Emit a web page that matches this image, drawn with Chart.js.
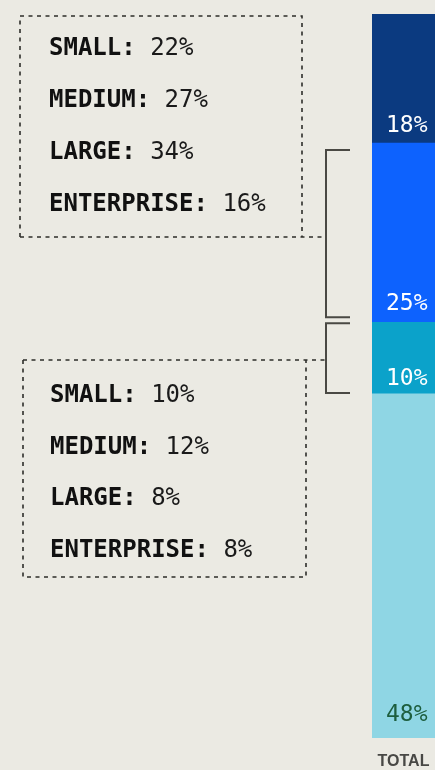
<!DOCTYPE html>
<html>
<head>
<meta charset="utf-8">
<script src="https://cdn.jsdelivr.net/npm/chart.js@4.4.0/dist/chart.umd.min.js"></script>
<style>
  html, body { margin: 0; padding: 0; background: #ebeae3; }
  canvas { display: block; }
</style>
</head>
<body>
<canvas id="chart" width="435" height="770"></canvas>
<script>
// Single stacked bar, segments listed bottom to top
const categories = ['TOTAL'];
const segmentNames = ['Segment 4', 'Segment 3', 'Segment 2', 'Segment 1'];
const segmentValues = [48, 10, 25, 18];
const segmentColors = ['#8fd6e4', '#0ba2ca', '#0d62fe', '#0b3a80'];
const segmentLabelColors = ['#1d5e3e', '#ffffff', '#ffffff', '#ffffff'];
const segmentLabelLift = [17, 9, 12, 11];   // px above each segment's lower edge

// Size breakdowns shown in the callout boxes
const sizeLabels = ['SMALL', 'MEDIUM', 'LARGE', 'ENTERPRISE'];
const upperBreakdown = [22, 27, 34, 16];   // attached to segment index 2
const lowerBreakdown = [10, 12, 8, 8];     // attached to segment index 1

const MONO = '"DejaVu Sans Mono", "Liberation Mono", monospace';

const callouts = [
  { seg: 2, values: upperBreakdown, box: { x: 20, y: 16, w: 282, h: 221 }, edge: 'bottom',
    firstBaseline: 55, step: 52, textX: 49, inset: [7, 5] },
  { seg: 1, values: lowerBreakdown, box: { x: 23, y: 360, w: 283, h: 217 }, edge: 'top',
    firstBaseline: 402, step: 51.7, textX: 50, inset: [1, 1] }
];

const segmentLabelPlugin = {
  id: 'segmentLabels',
  afterDatasetsDraw(chart) {
    const ctx = chart.ctx;
    ctx.save();
    ctx.font = '23px ' + MONO;
    ctx.textAlign = 'left';
    ctx.textBaseline = 'alphabetic';
    chart.data.datasets.forEach((ds, i) => {
      const bar = chart.getDatasetMeta(i).data[0];
      const left = bar.x - bar.width / 2;
      ctx.fillStyle = segmentLabelColors[i];
      ctx.fillText(ds.data[0] + '%', left + 14, bar.base - segmentLabelLift[i]);
    });
    ctx.restore();
  }
};

const calloutPlugin = {
  id: 'callouts',
  afterDraw(chart) {
    const ctx = chart.ctx;
    const y = chart.scales.y;
    const barLeft = chart.chartArea.left;
    ctx.save();
    callouts.forEach(c => {
      // segment extent in stacked units
      let lo = 0;
      for (let i = 0; i < c.seg; i++) lo += segmentValues[i];
      const hi = lo + segmentValues[c.seg];
      const top = y.getPixelForValue(hi) + c.inset[0];
      const bottom = y.getPixelForValue(lo) - c.inset[1];
      const bx = barLeft - 46;
      const tickEnd = barLeft - 22;

      // bracket
      ctx.strokeStyle = '#4a4944';
      ctx.lineWidth = 2;
      ctx.setLineDash([]);
      ctx.beginPath();
      ctx.moveTo(tickEnd, top);
      ctx.lineTo(bx, top);
      ctx.lineTo(bx, bottom);
      ctx.lineTo(tickEnd, bottom);
      ctx.stroke();

      // dashed box with the connecting edge carried to the bracket
      const b = c.box;
      ctx.strokeStyle = '#2e2e2a';
      ctx.lineWidth = 1.6;
      ctx.setLineDash([4, 4.5]);
      ctx.beginPath();
      if (c.edge === 'bottom') {
        ctx.moveTo(b.x, b.y + b.h);
        ctx.lineTo(b.x, b.y);
        ctx.lineTo(b.x + b.w, b.y);
        ctx.lineTo(b.x + b.w, b.y + b.h);
        ctx.moveTo(b.x, b.y + b.h);
        ctx.lineTo(bx, b.y + b.h);
      } else {
        ctx.moveTo(b.x, b.y);
        ctx.lineTo(b.x, b.y + b.h);
        ctx.lineTo(b.x + b.w, b.y + b.h);
        ctx.lineTo(b.x + b.w, b.y);
        ctx.moveTo(b.x, b.y);
        ctx.lineTo(bx, b.y);
      }
      ctx.stroke();

      // breakdown text
      ctx.setLineDash([]);
      ctx.textAlign = 'left';
      ctx.textBaseline = 'alphabetic';
      sizeLabels.forEach((name, k) => {
        const ty = c.firstBaseline + k * c.step;
        ctx.font = 'bold 24px ' + MONO;
        ctx.fillStyle = '#111111';
        const head = name + ':';
        ctx.fillText(head, c.textX, ty);
        const w = ctx.measureText(head + ' ').width;
        ctx.font = '24px ' + MONO;
        ctx.fillStyle = '#1a1a1a';
        ctx.fillText(c.values[k] + '%', c.textX + w, ty);
      });
    });
    ctx.restore();
  }
};

const total = segmentValues.reduce((a, v) => a + v, 0);

new Chart(document.getElementById('chart'), {
  type: 'bar',
  data: {
    labels: categories,
    datasets: segmentValues.map((v, i) => ({
      label: segmentNames[i],
      data: [v],
      backgroundColor: segmentColors[i],
      borderWidth: 0,
      barPercentage: 1,
      categoryPercentage: 1
    }))
  },
  options: {
    responsive: false,
    animation: false,
    devicePixelRatio: 1,
    layout: { padding: { left: 372, top: 14, right: 0, bottom: 0 } },
    plugins: { legend: { display: false }, tooltip: { enabled: false } },
    scales: {
      x: {
        stacked: true,
        grid: { display: false },
        border: { display: false },
        ticks: {
          color: '#484845',
          padding: 6,
          maxRotation: 0,
          minRotation: 0,
          font: { family: '"Liberation Sans", Arial, sans-serif', size: 16, weight: 'bold' }
        },
        afterFit(scale) {
          // keep the bar flush with the chart edges; fixed axis band height
          scale.paddingLeft = 0;
          scale.paddingRight = 0;
          scale.height = 32;
        }
      },
      y: {
        stacked: true,
        display: false,
        min: 0,
        max: total
      }
    }
  },
  plugins: [segmentLabelPlugin, calloutPlugin]
});
</script>
</body>
</html>
